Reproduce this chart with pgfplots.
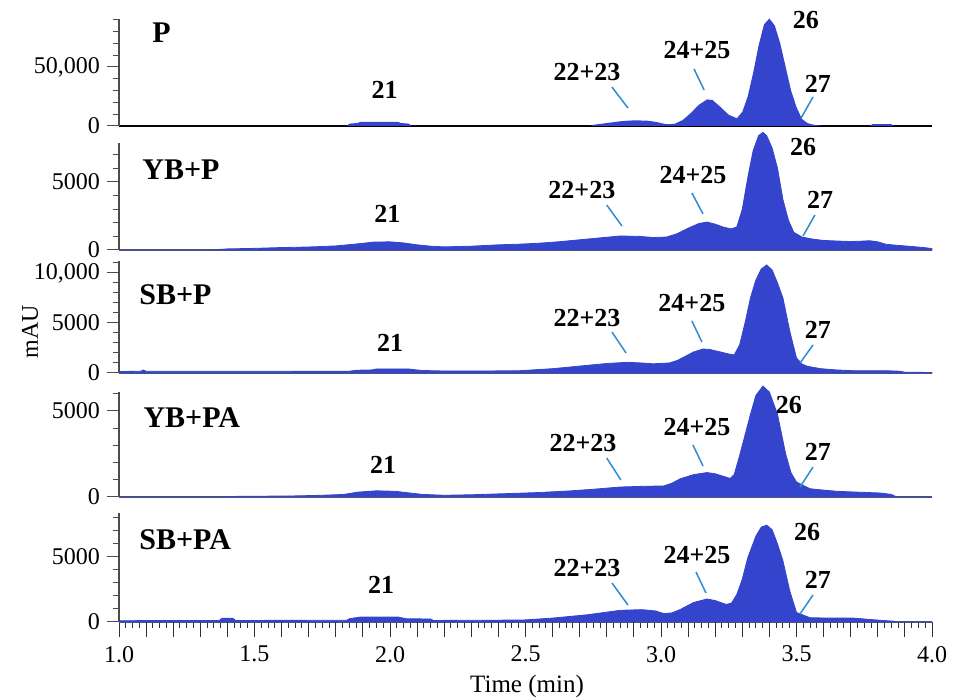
\documentclass[border=0pt]{standalone}
\usepackage{fontspec}
\setmainfont{Liberation Serif}
\usepackage{pgfplots}
\pgfplotsset{compat=1.18}

\definecolor{fillc}{RGB}{52,68,204}
\definecolor{leadc}{RGB}{45,140,210}

\newcommand{\plab}{\fontsize{15}{18}\selectfont\bfseries}
\newcommand{\klab}{\fontsize{13}{15}\selectfont\bfseries}

\tikzset{lead/.style={draw=leadc, line width=0.75pt},
         plabel/.style={anchor=west, inner sep=0pt}}

\pgfplotsset{
  panel/.style={
    scale only axis, width=406.5pt,
    xmin=1, xmax=4, ymin=0,
    scaled y ticks=false,
    axis x line*=bottom, axis y line*=left,
    x axis line style={-, draw=gray!70!black, line width=0.6pt},
    y axis line style={-, draw=gray!60!black, line width=0.6pt},
    tick align=outside,
    major tick length=6pt, minor tick length=3pt,
    ytick style={draw=gray!60!black, line width=0.5pt},
    minor y tick style={draw=gray!60!black, line width=0.5pt},
    xtick=\empty,
    tick label style={font=\fontsize{12}{14}\selectfont},
    xticklabel style={yshift=-2.5pt},
    clip=false,
  },
  chrom/.style={fill=fillc, draw=fillc, line width=0.4pt},
}

\begin{document}
\begin{tikzpicture}
\useasboundingbox (0,0) rectangle (477pt,350pt);

% ---------- P ----------
\begin{axis}[panel, at={(59.5pt,287pt)}, anchor=south west, height=53.5pt,
  ymax=90600, ytick={0,50000}, yticklabels={0,{50,000}},
  minor ytick={10000,20000,30000,40000,60000,70000,80000,90000},
  x axis line style={draw=black}]
\addplot[fill=fillc, draw=none] table {
1.00 0
1.84 0
1.85 2000
1.88 2500
1.89 3500
2.03 3500
2.04 2500
2.07 2000
2.08 0
2.74 0
2.75 1000
2.80 2500
2.85 4000
2.90 4800
2.95 4500
2.98 3500
3.02 1500
3.05 1800
3.08 5000
3.11 11000
3.14 18000
3.17 22500
3.19 22000
3.22 16000
3.25 9500
3.28 6500
3.30 12000
3.32 25000
3.34 45000
3.36 68000
3.38 86000
3.40 91000
3.42 85000
3.44 70000
3.46 50000
3.48 30000
3.50 16000
3.52 6000
3.54 2500
3.56 1200
3.58 500
3.60 0
3.77 0
3.78 1500
3.85 1500
3.86 0
4.00 0
} \closedcycle;
\node[plabel] at (axis cs:1.122,78800) {\plab P};
\node at (axis cs:1.98,30500) {\klab 21};
\node at (axis cs:2.727,45700) {\klab 22+23};
\draw[lead] (axis cs:2.819,33000) -- (axis cs:2.878,15250);
\node at (axis cs:3.133,64400) {\klab 24+25};
\draw[lead] (axis cs:3.122,48300) -- (axis cs:3.159,30500);
\node at (axis cs:3.535,89800) {\klab 26};
\node at (axis cs:3.579,35600) {\klab 27};
\draw[lead] (axis cs:3.561,24600) -- (axis cs:3.517,6800);
\end{axis}

% ---------- YB+P ----------
\begin{axis}[panel, at={(59.5pt,225pt)}, anchor=south west, height=53.5pt,
  ymax=7865, ytick={0,5000}, yticklabels={0,5000},
  minor ytick={1000,2000,3000,4000,6000,7000}]
\addplot[chrom] table {
1.00 0
1.34 0
1.40 80
1.50 120
1.60 180
1.70 220
1.80 300
1.88 450
1.94 580
2.00 600
2.05 520
2.10 380
2.15 280
2.20 230
2.30 280
2.40 380
2.48 430
2.55 500
2.62 600
2.70 750
2.78 900
2.85 1030
2.92 1000
2.97 920
3.02 950
3.06 1200
3.10 1600
3.14 1950
3.17 2050
3.20 1900
3.23 1680
3.26 1550
3.28 1700
3.30 3000
3.32 5300
3.34 7300
3.36 8400
3.376 8650
3.39 8400
3.41 7500
3.43 6000
3.45 3700
3.47 2200
3.49 1300
3.52 950
3.56 800
3.60 700
3.65 660
3.70 620
3.74 650
3.77 680
3.80 600
3.83 420
3.88 330
3.93 250
3.97 180
4.00 100
} \closedcycle;
\node[plabel] at (axis cs:1.085,5880) {\plab YB+P};
\node at (axis cs:1.99,2650) {\klab 21};
\node at (axis cs:2.708,4400) {\klab 22+23};
\draw[lead] (axis cs:2.80,3300) -- (axis cs:2.856,1760);
\node at (axis cs:3.118,5510) {\klab 24+25};
\draw[lead] (axis cs:3.114,4190) -- (axis cs:3.155,2650);
\node at (axis cs:3.524,7570) {\klab 26};
\node at (axis cs:3.587,3680) {\klab 27};
\draw[lead] (axis cs:3.568,2570) -- (axis cs:3.524,1030);
\end{axis}

% ---------- SB+P ----------
\begin{axis}[panel, at={(59.5pt,163.5pt)}, anchor=south west, height=56pt,
  ymax=11200, ytick={0,5000,10000}, yticklabels={0,5000,{10,000}},
  minor ytick={1000,2000,3000,4000,6000,7000,8000,9000,11000}]
\addplot[chrom] table {
1.00 150
1.08 170
1.09 300
1.10 170
1.50 170
1.85 180
1.88 280
1.93 300
1.95 400
2.07 400
2.10 300
2.12 250
2.20 200
2.35 200
2.48 230
2.60 430
2.73 770
2.80 950
2.875 1070
2.93 1000
2.97 920
3.03 1000
3.06 1250
3.09 1670
3.12 2100
3.155 2400
3.18 2350
3.22 2100
3.25 1900
3.27 1800
3.29 2800
3.31 5000
3.33 7500
3.35 9300
3.37 10400
3.39 10800
3.41 10300
3.43 9000
3.45 7500
3.475 4200
3.50 1500
3.52 900
3.54 670
3.59 430
3.65 300
3.71 230
3.83 230
3.88 180
3.90 80
4.00 50
} \closedcycle;
\node[plabel] at (axis cs:1.074,7800) {\plab SB+P};
\node at (axis cs:2.0,3000) {\klab 21};
\node at (axis cs:2.727,5500) {\klab 22+23};
\draw[lead] (axis cs:2.819,4100) -- (axis cs:2.871,2000);
\node at (axis cs:3.114,7000) {\klab 24+25};
\draw[lead] (axis cs:3.114,5200) -- (axis cs:3.151,3100);
\node at (axis cs:3.579,4300) {\klab 27};
\draw[lead] (axis cs:3.561,2800) -- (axis cs:3.513,1000);
\end{axis}

% ---------- YB+PA ----------
\begin{axis}[panel, at={(59.5pt,101.5pt)}, anchor=south west, height=52.5pt,
  ymax=6105, ytick={0,5000}, yticklabels={0,5000},
  minor ytick={1000,2000,3000,4000,6000}]
\addplot[chrom] table {
1.00 0
1.37 0
1.40 30
1.64 60
1.75 100
1.83 150
1.88 280
1.95 360
2.02 330
2.08 220
2.12 150
2.20 100
2.30 130
2.44 200
2.55 260
2.66 350
2.75 450
2.85 580
2.93 620
3.01 640
3.04 800
3.07 1050
3.12 1300
3.17 1420
3.20 1350
3.22 1250
3.255 1080
3.27 1300
3.29 2400
3.31 3600
3.33 4800
3.35 5900
3.376 6450
3.40 6100
3.43 4800
3.46 2500
3.48 1400
3.50 870
3.55 480
3.60 400
3.65 330
3.73 280
3.81 230
3.85 150
3.87 0
4.00 0
} \closedcycle;
\node[plabel] at (axis cs:1.089,4600) {\plab YB+PA};
\node at (axis cs:1.975,1860) {\klab 21};
\node at (axis cs:2.712,3130) {\klab 22+23};
\draw[lead] (axis cs:2.80,2260) -- (axis cs:2.852,990);
\node at (axis cs:3.133,4060) {\klab 24+25};
\draw[lead] (axis cs:3.118,3020) -- (axis cs:3.155,1800);
\node at (axis cs:3.472,5340) {\klab 26};
\node at (axis cs:3.579,2610) {\klab 27};
\draw[lead] (axis cs:3.561,1740) -- (axis cs:3.513,580);
\end{axis}

% ---------- SB+PA ----------
\begin{axis}[panel, at={(59.5pt,39pt)}, anchor=south west, height=54.5pt,
  ymax=8385, ytick={0,5000}, yticklabels={0,5000},
  minor ytick={1000,2000,3000,4000,6000,7000,8000},
  xtick={1,1.5,2,2.5,3,3.5,4},
  xticklabels={1.0,1.5,2.0,2.5,3.0,3.5,4.0},
  minor x tick num=19,
  xtick style={draw=gray!40!black, line width=0.5pt, /pgfplots/major tick length=7.5pt},
  minor x tick style={draw=gray!40!black, line width=0.5pt},
  extra x ticks={1.1,1.2,1.3,1.4,1.6,1.7,1.8,1.9,2.1,2.2,2.3,2.4,2.6,2.7,2.8,2.9,3.1,3.2,3.3,3.4,3.6,3.7,3.8,3.9},
  extra x tick labels={},
  extra x tick style={/pgfplots/major tick length=5.5pt, draw=gray!40!black, line width=0.5pt}]
\addplot[chrom] table {
1.00 100
1.37 120
1.38 280
1.42 280
1.43 120
1.84 130
1.85 250
1.89 380
2.03 380
2.06 250
2.15 230
2.16 120
2.30 130
2.49 150
2.60 300
2.73 560
2.85 900
2.93 950
2.98 850
3.01 650
3.04 700
3.07 950
3.12 1500
3.17 1770
3.20 1650
3.24 1350
3.26 1450
3.28 2130
3.30 3300
3.32 4930
3.35 6600
3.37 7300
3.39 7450
3.41 7100
3.43 6000
3.45 4700
3.475 2400
3.50 730
3.55 330
3.62 300
3.71 300
3.81 130
3.86 60
3.87 0
4.00 0
} \closedcycle;
\node[plabel] at (axis cs:1.074,6300) {\plab SB+PA};
\node at (axis cs:1.967,2850) {\klab 21};
\node at (axis cs:2.727,4160) {\klab 22+23};
\draw[lead] (axis cs:2.819,3000) -- (axis cs:2.878,1310);
\node at (axis cs:3.133,5160) {\klab 24+25};
\draw[lead] (axis cs:3.129,3850) -- (axis cs:3.166,2230);
\node at (axis cs:3.539,6930) {\klab 26};
\node at (axis cs:3.579,3230) {\klab 27};
\draw[lead] (axis cs:3.561,2080) -- (axis cs:3.513,620);
\end{axis}

\node[rotate=90, font=\fontsize{12}{14}\selectfont] at (15pt,184pt) {mAU};
\node[font=\fontsize{12.5}{14}\selectfont] at (263.5pt,7pt) {Time (min)};
\end{tikzpicture}
\end{document}
